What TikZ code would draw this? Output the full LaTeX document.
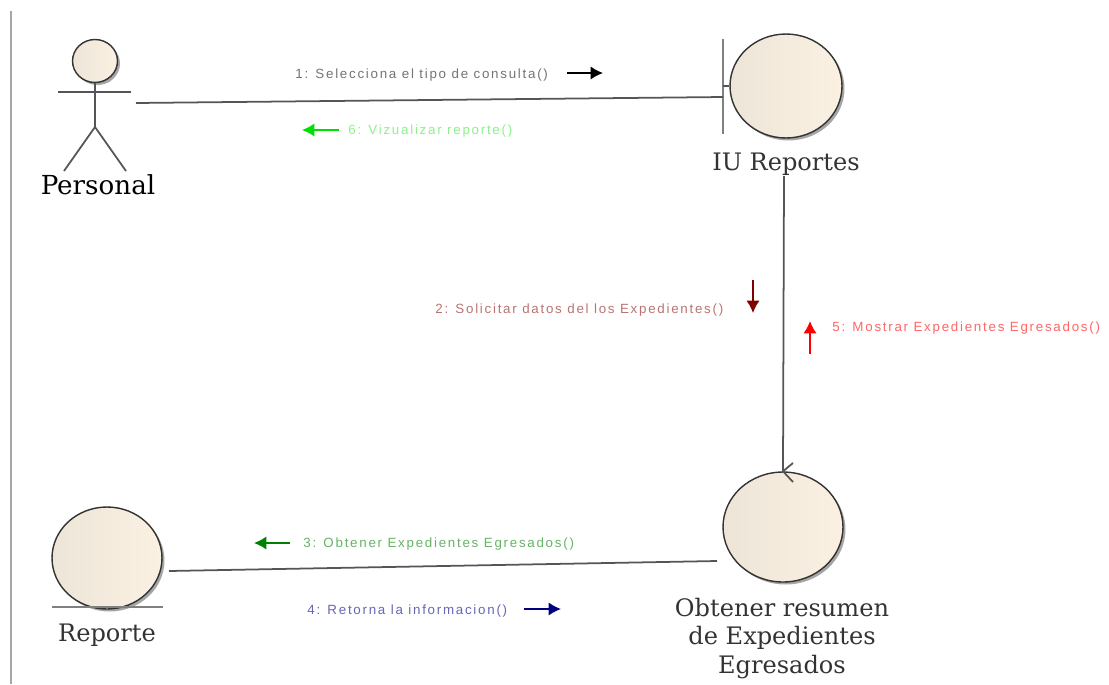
\documentclass[tikz,border=0pt]{standalone}
\usepackage{fontspec}
\setmainfont{DejaVu Serif}
\newfontfamily\msgfont[LetterSpace=13]{Liberation Sans}
\usetikzlibrary{shapes.geometric,shadows,arrows.meta}
\definecolor{beigeL}{HTML}{EDE5D7}
\definecolor{beigeR}{HTML}{FAF1E3}
\definecolor{linegray}{HTML}{555555}
\definecolor{msggreen}{HTML}{00E000}
\tikzset{
	classnode/.style={ellipse, draw=black!80, line width=0.8pt, inner sep=0pt,
		left color=beigeL, middle color=beigeR, right color=beigeR,
		drop shadow={shadow xshift=0.05cm, shadow yshift=-0.05cm, fill=black, opacity=0.35}},
	classlabel/.style={font=\fontsize{13.7}{16.4}\selectfont, text=black!80, align=center},
	msglabel/.style={font=\msgfont\fontsize{7.6}{9}\selectfont, anchor=west, inner sep=0pt},
	msgarrow/.style={-{Latex[length=7pt,width=7.5pt]}, line width=0.9pt},
	link/.style={draw=linegray, line width=1pt}
}
\begin{document}
\begin{tikzpicture}[x=0.02cm, y=-0.02cm]
	\useasboundingbox (0,0) rectangle (1109,684);
	\draw[black!35, line width=1.2pt] (11,11) -- (11,684);

	% actor
	\node[classnode, minimum width=0.9cm, minimum height=0.86cm] (head) at (95,61) {};
	\coordinate (armL) at (58,92);
	\coordinate (armR) at (131,92);
	\coordinate (hip) at (95,127);
	\coordinate (footL) at (64,171);
	\coordinate (footR) at (126,171);
	\draw[link] (head) -- (hip);
	\draw[link] (armL) -- (armR);
	\draw[link] (footL) -- (hip) -- (footR);
	\node[classlabel, text=black, font=\fontsize{14.9}{18}\selectfont] (personal) at (98,185) {Personal};

	% boundary
	\node[classnode, minimum width=2.24cm, minimum height=2.08cm] (iu) at (786,86) {};
	\coordinate (barT) at (723,39);
	\coordinate (barB) at (723,134);
	\coordinate (barM) at (723,86);
	\draw[black!50, line width=1.2pt] (barT) -- (barB);
	\draw[link] (barM) -- (iu);
	\node[classlabel] (iulabel) at (786,164) {IU Reportes};

	% control
	\node[classnode, minimum width=2.4cm, minimum height=2.2cm] (ctrl) at (783,527) {};
	\coordinate (tickA) at (793,463);
	\coordinate (tickB) at (793,482);
	\draw[link] (tickA) -- (ctrl.north) -- (tickB);
	\node[classlabel] (ctrllabel) at (782,638.5) {Obtener resumen\\de Expedientes\\Egresados};

	% entity
	\node[classnode, minimum width=2.2cm, minimum height=2.04cm] (ent) at (107,558) {};
	\coordinate (entL) at (52,607);
	\coordinate (entR) at (163,607);
	\draw[black!50, line width=1.2pt] (entL) -- (entR);
	\node[classlabel] (entlabel) at (107,635) {Reporte};

	% links
	\coordinate (a) at (136,103);
	\coordinate (b) at (723,97);
	\coordinate (c) at (784,176);
	\coordinate (d) at (169,571);
	\coordinate (e) at (717,561);
	\draw[link] (a) -- (b);
	\draw[link] (c) -- (ctrl.north);
	\draw[link] (d) -- (e);

	% messages
	\node[msglabel, text=black!55] (m1) at (295,75) {1: Selecciona el tipo de consulta()};
	\coordinate (m1a) at (567,73);
	\coordinate (m1b) at (603,73);
	\draw[msgarrow, black] (m1a) -- (m1b);

	\node[msglabel, text=msggreen!45] (m6) at (348,131) {6: Vizualizar reporte()};
	\coordinate (m6a) at (339,130);
	\coordinate (m6b) at (302,130);
	\draw[msgarrow, msggreen] (m6a) -- (m6b);

	\node[msglabel, text=red!50!black!55] (m2) at (435,310) {2: Solicitar datos del los Expedientes()};
	\coordinate (m2a) at (753,280);
	\coordinate (m2b) at (753,313);
	\draw[msgarrow, red!50!black] (m2a) -- (m2b);

	\node[msglabel, text=red!60] (m5) at (832,328) {5: Mostrar Expedientes Egresados()};
	\coordinate (m5a) at (810,354);
	\coordinate (m5b) at (810,321);
	\draw[msgarrow, red] (m5a) -- (m5b);

	\node[msglabel, text=green!50!black!60] (m3) at (303,544) {3: Obtener Expedientes Egresados()};
	\coordinate (m3a) at (290,543);
	\coordinate (m3b) at (254,543);
	\draw[msgarrow, green!50!black] (m3a) -- (m3b);

	\node[msglabel, text=blue!50!black!60] (m4) at (307,611) {4: Retorna la informacion()};
	\coordinate (m4a) at (524,609);
	\coordinate (m4b) at (561,609);
	\draw[msgarrow, blue!50!black] (m4a) -- (m4b);
\end{tikzpicture}
\end{document}
